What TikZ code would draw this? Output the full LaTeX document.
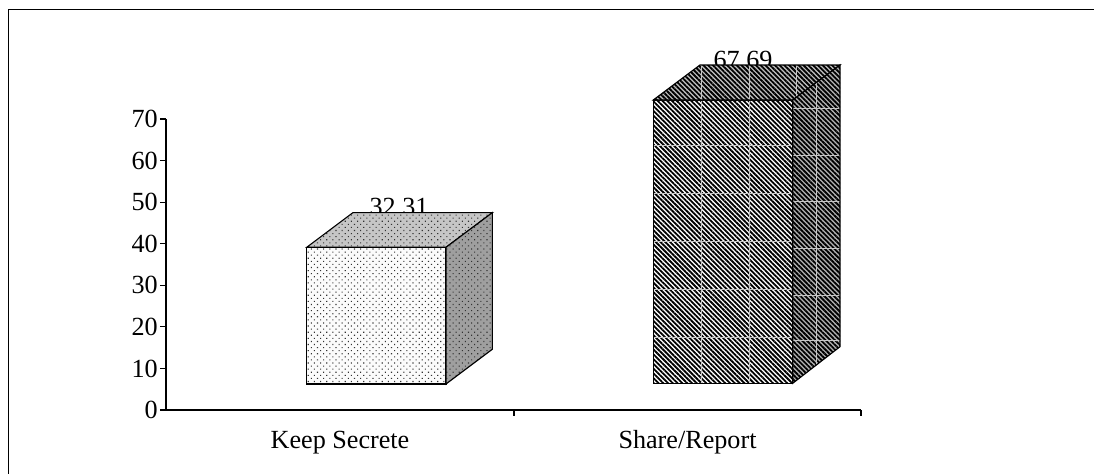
\documentclass[tikz,border=0pt]{standalone}
\usepackage{fontspec}
\setmainfont{Liberation Serif}
\usetikzlibrary{patterns.meta,positioning}

\begin{document}
\begin{tikzpicture}[
		x=0.025cm,y=-0.025cm,
		lbl/.style={font=\fontsize{18.6}{22}\selectfont, inner sep=0pt},
		axisline/.style={line width=0.8pt},
		edge/.style={draw=black, line width=0.8pt},
		seam/.style={draw=gray!45, line width=0.35pt},
		dotface/.style={preaction={fill=#1}, pattern={Dots[distance=3.1pt,radius=0.55pt,angle=45]}, pattern color=black!80},
		stripface/.style={preaction={fill=#1}, pattern={Lines[angle=-45,distance=2.4pt,line width=1.3pt]}, pattern color=black},
	]
	\useasboundingbox (0,0) rectangle (1094,474);
	% constants:
	\pgfmathsetmacro{\ax}{166}
	\pgfmathsetmacro{\ay}{410}
	\pgfmathsetmacro{\ux}{41.57}

	% frame
	\draw[line width=1pt] (8.5,490) -- (8.5,9.5) -- (1110,9.5);

	% axes
	\draw[axisline] (\ax,\ay-7*\ux) -- (\ax,\ay) -- (861,\ay);
	\foreach \v in {0,...,7} {
		\pgfmathtruncatemacro{\tl}{\v*10}
		\draw[axisline] (\ax-6,\ay-\v*\ux) -- (\ax,\ay-\v*\ux);
		\node[lbl,anchor=east] (t\v) at (\ax-8,\ay-\v*\ux) {\tl};
	}
	\draw[axisline] (514,\ay) -- (514,\ay+6);
	\draw[axisline] (861,\ay) -- (861,\ay+6);

	\node[lbl,anchor=base] (keep) at (340,448) {Keep Secrete};
	\node[lbl,anchor=base] (share) at (687.5,448) {Share/Report};

	% values (covered by the bar tops)
	\node[lbl,anchor=base] (vkeep) at (399,215.5) {32.31};
	\node[lbl,anchor=base] (vshare) at (743,68) {67.69};

	% bar 1
	\draw[edge,dotface=gray!3] (306.7,247.3) rectangle (446,384);
	\draw[edge,dotface=gray!45] (306.7,247.3) -- (353,212.6) -- (492.4,212.6) -- (446,247.3) -- cycle;
	\draw[edge,dotface=gray!75] (446,247.3) -- (492.4,212.6) -- (492.4,349.2) -- (446,384) -- cycle;

	% bar 2
	\fill[stripface=white] (653.3,100) rectangle (792.7,383.3);
	\begin{scope}
		\clip (653.3,100) rectangle (792.7,383.3);
		\foreach \sx in {701.7,749.3} \draw[seam] (\sx,100) -- (\sx,383.3);
		\foreach \sy in {145.7,193.3,241,289.3,337.7} \draw[seam] (653.3,\sy) -- (792.7,\sy);
	\end{scope}
	\draw[edge] (653.3,100) rectangle (792.7,383.3);

	\fill[stripface=gray!50] (653.3,100) -- (700,65) -- (840,65) -- (792.7,100) -- cycle;
	\begin{scope}
		\clip (653.3,100) -- (700,65) -- (840,65) -- (792.7,100) -- cycle;
		\foreach \sx in {701.7,749.3,796.7} \draw[seam] (\sx,65) -- (\sx,100);
	\end{scope}
	\draw[edge] (653.3,100) -- (700,65) -- (840,65) -- (792.7,100) -- cycle;

	\fill[stripface=gray!60] (792.7,100) -- (840,65) -- (840,346.7) -- (792.7,383.3) -- cycle;
	\begin{scope}
		\clip (792.7,100) -- (840,65) -- (840,346.7) -- (792.7,383.3) -- cycle;
		\draw[seam] (816.7,65) -- (816.7,383.3);
		\foreach \sy in {108.3,155.7,201.7,248,295,340} \draw[seam] (792.7,\sy) -- (840,\sy);
	\end{scope}
	\draw[edge] (792.7,100) -- (840,65) -- (840,346.7) -- (792.7,383.3) -- cycle;

\end{tikzpicture}
\end{document}
